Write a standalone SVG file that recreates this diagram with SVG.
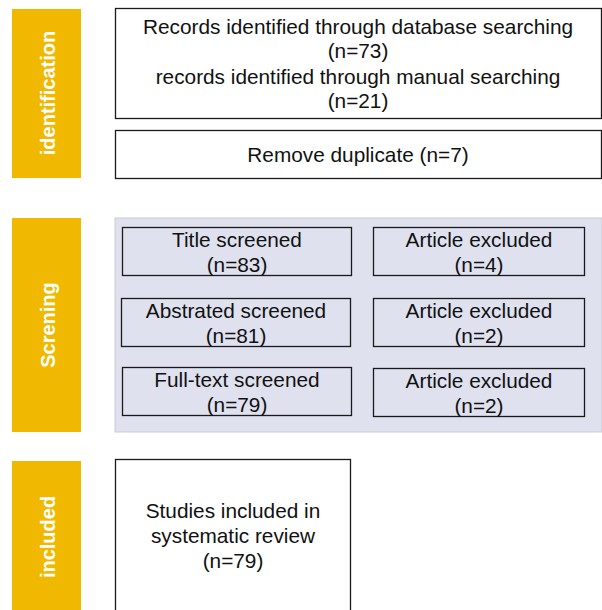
<svg xmlns="http://www.w3.org/2000/svg" width="602" height="610" viewBox="0 0 602 610">
<style>
.bar{fill:#f1b800}
.lbl{font-family:"Liberation Sans",Arial,sans-serif;font-size:20px;font-weight:bold;fill:#ffffff;text-anchor:middle;dominant-baseline:central}
.box{fill:#ffffff;stroke:#1a1a1a;stroke-width:1.3}
.sbox{fill:none;stroke:#1a1a1a;stroke-width:1.3}
.t{font-family:"Liberation Sans",Arial,sans-serif;font-size:20.8px;fill:#111111;text-anchor:middle}
</style>
<rect x="0" y="0" width="602" height="610" fill="#ffffff"/>
<g id="stage-identification">
<rect class="bar" x="12" y="9" width="69" height="169"/>
<text class="lbl" transform="translate(48,93) rotate(-90)">identification</text>
</g>
<g id="stage-screening">
<rect class="bar" x="12" y="218" width="69" height="214"/>
<text class="lbl" transform="translate(48,325) rotate(-90)">Screning</text>
</g>
<g id="stage-included">
<rect class="bar" x="12" y="461" width="69" height="152"/>
<text class="lbl" transform="translate(48,537) rotate(-90)">included</text>
</g>
<g id="records">
<rect class="box" x="115.5" y="8.5" width="486" height="110"/>
<text class="t" x="358" y="34">Records identified through database searching</text>
<text class="t" x="358" y="58">(n=73)</text>
<text class="t" x="358" y="84">records identified through manual searching</text>
<text class="t" x="358" y="108">(n=21)</text>
</g>
<g id="duplicates">
<rect class="box" x="115.5" y="130.5" width="486" height="48"/>
<text class="t" x="358" y="162">Remove duplicate (n=7)</text>
</g>
<g id="screening-area">
<rect x="115" y="218" width="487" height="214" fill="#dfe1ef" stroke="#c9cbd8" stroke-width="1"/>
</g>
<g id="title-screened">
<rect class="sbox" x="122.5" y="227.5" width="229" height="48"/>
<text class="t" x="237" y="247">Title screened</text>
<text class="t" x="237" y="272">(n=83)</text>
</g>
<g id="excluded-1">
<rect class="sbox" x="373.5" y="227.5" width="211" height="48"/>
<text class="t" x="479" y="247">Article excluded</text>
<text class="t" x="479" y="272">(n=4)</text>
</g>
<g id="abstract-screened">
<rect class="sbox" x="121.5" y="298.5" width="229" height="48"/>
<text class="t" x="236" y="318">Abstrated screened</text>
<text class="t" x="236" y="343">(n=81)</text>
</g>
<g id="excluded-2">
<rect class="sbox" x="373.5" y="298.5" width="211" height="48"/>
<text class="t" x="479" y="318">Article excluded</text>
<text class="t" x="479" y="343">(n=2)</text>
</g>
<g id="fulltext-screened">
<rect class="sbox" x="122.5" y="367.5" width="229" height="48"/>
<text class="t" x="237" y="387">Full-text screened</text>
<text class="t" x="237" y="412">(n=79)</text>
</g>
<g id="excluded-3">
<rect class="sbox" x="373.5" y="368.5" width="211" height="48"/>
<text class="t" x="479" y="388">Article excluded</text>
<text class="t" x="479" y="413">(n=2)</text>
</g>
<g id="included">
<rect class="box" x="115.5" y="459.5" width="235" height="155"/>
<text class="t" x="233" y="518">Studies included in</text>
<text class="t" x="233" y="543">systematic review</text>
<text class="t" x="233" y="568">(n=79)</text>
</g>
<g id="connectors"></g>
</svg>
